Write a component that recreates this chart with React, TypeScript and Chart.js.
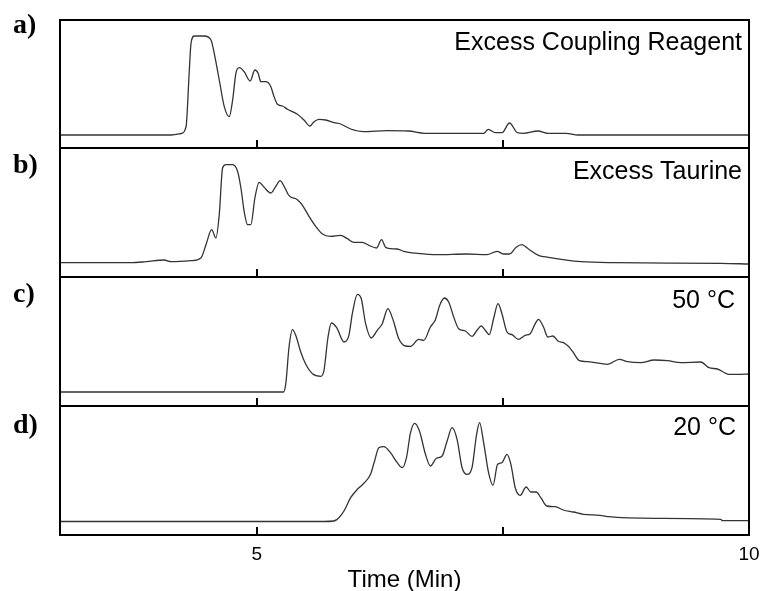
import React, { useEffect, useRef } from 'react';
import { Chart, registerables } from 'chart.js';

Chart.register(...registerables);

// ---------------- data ----------------
const timeA = [3.0, 4.13, 4.23, 4.28, 4.314, 4.331, 4.365, 4.466, 4.534, 4.567, 4.618, 4.669, 4.719, 4.754, 4.787, 4.821, 4.871, 4.932, 4.98, 5.013, 5.04, 5.091, 5.142, 5.175, 5.21, 5.26, 5.311, 5.412, 5.479, 5.54, 5.581, 5.631, 5.699, 5.783, 5.851, 5.953, 6.087, 6.325, 6.54, 6.703, 7.304, 7.351, 7.422, 7.49, 7.567, 7.645, 7.709, 7.855, 7.956, 8.142, 8.26, 10.0];
const signalA = [13, 13, 14.5, 21, 78, 104.7, 112, 112, 108, 94.7, 68, 41.3, 31.3, 48, 74.7, 80.3, 76.3, 67, 78, 74.7, 66.3, 66.3, 61.3, 51.3, 43.7, 42, 38.7, 33.7, 28, 22, 26.3, 28.7, 28, 25.3, 24, 19, 16.3, 17.3, 17, 14.7, 14.7, 18.7, 15.3, 15.3, 25, 15.5, 14.7, 17, 14.7, 14.7, 13, 13];

const timeB = [3.0, 3.72, 3.875, 4.057, 4.128, 4.331, 4.432, 4.483, 4.541, 4.584, 4.618, 4.652, 4.686, 4.754, 4.804, 4.838, 4.871, 4.906, 4.939, 4.98, 5.023, 5.074, 5.142, 5.193, 5.236, 5.277, 5.327, 5.412, 5.463, 5.53, 5.598, 5.666, 5.75, 5.851, 5.919, 5.986, 6.071, 6.138, 6.216, 6.267, 6.307, 6.358, 6.426, 6.493, 6.629, 6.831, 7.135, 7.338, 7.44, 7.506, 7.567, 7.635, 7.693, 7.76, 7.861, 7.962, 8.294, 8.628, 9.713, 10.0];
const signalB = [13.3, 13.3, 14.3, 16, 14.3, 15.3, 18, 31.3, 46.3, 38, 61.3, 108, 111.3, 111.3, 104.7, 88, 64.7, 51.3, 51.3, 78, 93.7, 88.7, 83, 89.7, 95.3, 89.7, 80.3, 76.3, 70.7, 59.7, 49.7, 42, 39.7, 40.7, 37.3, 33.7, 33.7, 30.7, 28, 36.3, 28.7, 27.3, 27, 24.7, 22.7, 21.3, 22, 21.3, 24.7, 22, 22, 28.7, 31.3, 27, 20.7, 18.7, 14.3, 13.3, 12.7, 12];

const timeC = [3.0, 5.271, 5.294, 5.327, 5.362, 5.395, 5.446, 5.497, 5.565, 5.649, 5.682, 5.723, 5.757, 5.811, 5.885, 5.935, 5.97, 6.021, 6.061, 6.105, 6.162, 6.223, 6.274, 6.331, 6.385, 6.442, 6.51, 6.561, 6.645, 6.696, 6.763, 6.814, 6.858, 6.905, 6.949, 7.0, 7.05, 7.118, 7.186, 7.237, 7.28, 7.321, 7.361, 7.405, 7.45, 7.49, 7.541, 7.592, 7.658, 7.726, 7.777, 7.828, 7.861, 7.912, 7.956, 8.007, 8.064, 8.114, 8.165, 8.21, 8.277, 8.362, 8.564, 8.682, 8.767, 8.902, 9.037, 9.172, 9.307, 9.51, 9.594, 9.679, 9.797, 9.882, 10.0];
const signalC = [13, 13, 21.3, 58, 75.3, 69.7, 53, 40.7, 31.3, 28.7, 34.7, 68, 82, 77.3, 63, 69.7, 91.3, 110.7, 106.3, 81.3, 67, 74.7, 81.3, 96.3, 84.7, 66.3, 59, 58.7, 65.7, 64.7, 78, 85.3, 99.7, 107, 103, 88, 76.3, 74, 68.7, 74.7, 79, 74.7, 70.3, 86.3, 101.3, 91.3, 73, 70.3, 65.7, 69.7, 71.3, 81.3, 85.7, 78, 68, 69, 63.7, 62.3, 58.7, 53.3, 44.3, 43.3, 40.7, 45.7, 43.3, 42.3, 45, 44.3, 42.3, 43, 37.3, 36, 30.7, 30.7, 31];

const timeD = [3.0, 5.679, 5.783, 5.834, 5.885, 5.953, 6.021, 6.087, 6.155, 6.196, 6.239, 6.29, 6.358, 6.426, 6.477, 6.52, 6.561, 6.604, 6.652, 6.713, 6.763, 6.824, 6.882, 6.933, 6.983, 7.034, 7.085, 7.135, 7.186, 7.23, 7.263, 7.304, 7.354, 7.399, 7.446, 7.49, 7.541, 7.581, 7.625, 7.676, 7.736, 7.784, 7.838, 7.885, 7.946, 8.03, 8.114, 8.216, 8.317, 8.486, 8.564, 9.071, 9.713, 9.73, 10.0];
const signalD = [13.5, 13.5, 14, 17.3, 24, 37.3, 45.7, 51.7, 60.7, 74, 87.3, 88.3, 82.3, 72.3, 67.3, 77.3, 102.3, 111.7, 104, 80.7, 69, 76.7, 79, 94, 107.3, 95.7, 67.3, 60.7, 67.3, 99, 112.3, 92.3, 62.3, 49.7, 70.7, 72.3, 80.7, 70.7, 47.3, 39.7, 48, 43, 43, 37.3, 29, 28.3, 25, 23, 20.7, 19.7, 18.3, 16.7, 15.7, 14.3, 14.3];

const panelLabels = ['a)', 'b)', 'c)', 'd)'];
const panelTitles = ['Excess Coupling Reagent', 'Excess Taurine', '50 °C', '20 °C'];
const xTickValues = [5, 7.5, 10];
const xTickLabels = ['5', '', '10'];
const xAxisTitle = 'Time (Min)';
const X_MIN = 3;
const X_MAX = 10;

const panelTimes = [timeA, timeB, timeC, timeD];
const panelSignals = [signalA, signalB, signalC, signalD];

// ---------------- layout (styles, not data) ----------------
const W = 762;
const H = 591;
const CANVAS_W = 800;
const AREA_LEFT = 60;
const AREA_RIGHT = 749;
const PANEL_BOUNDS = [[20, 148], [148, 277], [277, 406], [406, 535]];
const Y_RANGES = [[0, 128], [-1, 128], [-1, 128], [0, 129]];
const LABEL_TOPS = [9.5, 149.8, 278.8, 409.8];
const TITLE_TOPS = [28.8, 157.8, 286.8, 413.8];
const TITLE_RIGHTS = [742, 742, 735, 736];
const LAST_CANVAS_TOP = 402;
const LAST_CANVAS_H = 190;

const boxPlugin = {
  id: 'panelBox',
  afterDatasetsDraw(chart: any) {
    const { ctx, chartArea } = chart;
    const { left, right, top, bottom } = chartArea;
    const xs = chart.scales.x;
    ctx.save();
    ctx.strokeStyle = '#000';
    ctx.lineWidth = 2;
    ctx.strokeRect(left, top, right - left, bottom - top);
    ctx.beginPath();
    for (const v of xTickValues) {
      const px = Math.round(xs.getPixelForValue(v));
      if (px > left + 3 && px < right - 3) {
        ctx.moveTo(px, bottom);
        ctx.lineTo(px, bottom - 8);
      }
    }
    ctx.stroke();
    ctx.restore();
  },
};

export default function App() {
  const refs = useRef<(HTMLCanvasElement | null)[]>([]);

  useEffect(() => {
    Chart.defaults.font.family = "'Liberation Sans', Arial, sans-serif";
    const charts: Chart[] = [];
    for (let i = 0; i < 4; i++) {
      const canvas = refs.current[i];
      if (!canvas) continue;
      const isLast = i === 3;
      const pts = panelTimes[i].map((t, k) => ({ x: t, y: panelSignals[i][k] }));
      const chart = new Chart(canvas, {
        type: 'line',
        data: {
          datasets: [
            {
              data: pts,
              borderColor: '#333333',
              borderWidth: 1.3,
              pointRadius: 0,
              fill: false,
              tension: 0.4,
              cubicInterpolationMode: 'monotone',
            },
          ],
        },
        options: {
          animation: false,
          responsive: false,
          devicePixelRatio: 1,
          events: [],
          layout: {
            padding: {
              left: AREA_LEFT,
              right: CANVAS_W - AREA_RIGHT,
              top: 4,
              bottom: isLast ? 0 : 4,
            },
          },
          plugins: {
            legend: { display: false },
            tooltip: { enabled: false },
            title: { display: false },
          },
          scales: {
            x: {
              type: 'linear',
              min: X_MIN,
              max: X_MAX,
              display: isLast,
              border: { display: false },
              grid: { display: false, drawTicks: false },
              afterBuildTicks: (scale: any) => {
                scale.ticks = xTickValues.map((v) => ({ value: v }));
              },
              ticks: {
                autoSkip: false,
                maxRotation: 0,
                padding: 8,
                color: '#000',
                font: { size: 19, lineHeight: '23px' as any },
                callback: (value: any) => {
                  const idx = xTickValues.indexOf(Number(value));
                  return idx >= 0 ? xTickLabels[idx] : '';
                },
              },
              title: {
                display: true,
                text: xAxisTitle,
                color: '#000',
                font: { size: 24, lineHeight: '24px' as any },
                padding: { top: -6, bottom: 0 },
              },
            },
            y: {
              type: 'linear',
              display: false,
              min: Y_RANGES[i][0],
              max: Y_RANGES[i][1],
            },
          },
        },
        plugins: [boxPlugin],
      });
      charts.push(chart);
    }
    return () => {
      charts.forEach((c) => c.destroy());
    };
  }, []);

  return (
    <div
      style={{
        position: 'fixed',
        left: 0,
        top: 0,
        width: W,
        height: H,
        overflow: 'hidden',
        background: '#fff',
      }}
    >
      {PANEL_BOUNDS.map((b, i) => {
        const isLast = i === 3;
        const top = isLast ? LAST_CANVAS_TOP : b[0] - 4;
        const h = isLast ? LAST_CANVAS_H : b[1] - b[0] + 8;
        return (
          <canvas
            key={'c' + i}
            ref={(el) => {
              refs.current[i] = el;
            }}
            width={CANVAS_W}
            height={h}
            style={{ position: 'absolute', left: 0, top, width: CANVAS_W, height: h }}
          />
        );
      })}
      {panelLabels.map((lab, i) => (
        <div
          key={'l' + i}
          style={{
            position: 'absolute',
            left: 13,
            top: LABEL_TOPS[i],
            fontFamily: "'Liberation Serif', 'Times New Roman', serif",
            fontWeight: 'bold',
            fontSize: 28,
            lineHeight: '28px',
            color: '#000',
            whiteSpace: 'nowrap',
          }}
        >
          {lab}
        </div>
      ))}
      {panelTitles.map((t, i) => (
        <div
          key={'t' + i}
          style={{
            position: 'absolute',
            right: W - TITLE_RIGHTS[i],
            top: TITLE_TOPS[i],
            fontFamily: "'Liberation Sans', Arial, sans-serif",
            fontSize: 25,
            lineHeight: '25px',
            color: '#000',
            whiteSpace: 'nowrap',
            textAlign: 'right',
          }}
        >
          {t}
        </div>
      ))}
    </div>
  );
}
